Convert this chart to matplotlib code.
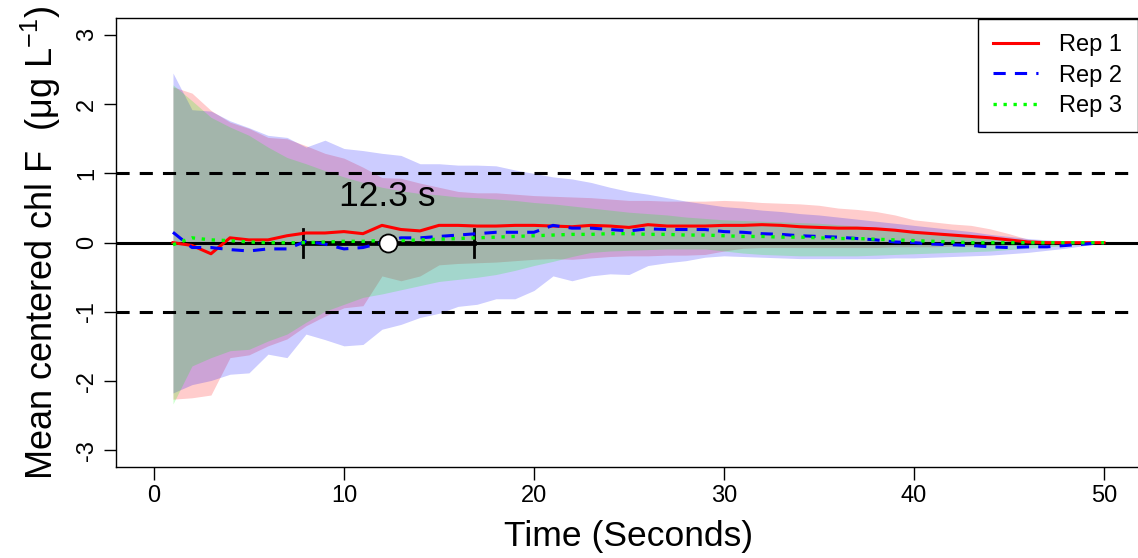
import matplotlib
matplotlib.use("Agg")
import matplotlib.pyplot as plt
import numpy as np

plt.rcParams['font.family'] = ['Liberation Sans', 'DejaVu Sans']
plt.rcParams['mathtext.default'] = 'regular'
plt.rcParams['axes.unicode_minus'] = False

# time in seconds
t = np.arange(1, 51)

# replicate means
rep1 = [0.0, -0.04, -0.16, 0.07, 0.04, 0.04, 0.10, 0.14, 0.14, 0.16,
        0.13, 0.25, 0.19, 0.17, 0.25, 0.25, 0.24, 0.24, 0.25, 0.25,
        0.24, 0.23, 0.25, 0.24, 0.22, 0.26, 0.24, 0.24, 0.24, 0.25,
        0.25, 0.26, 0.25, 0.23, 0.22, 0.21, 0.21, 0.20, 0.18, 0.15,
        0.13, 0.11, 0.09, 0.07, 0.04, 0.01, 0.0, 0.0, 0.0, 0.0]
rep2 = [0.15, -0.07, -0.07, -0.10, -0.12, -0.09, -0.09, 0.02, -0.02, -0.09,
        -0.07, 0.0, 0.07, 0.07, 0.09, 0.11, 0.13, 0.15, 0.15, 0.15,
        0.25, 0.21, 0.21, 0.19, 0.17, 0.20, 0.19, 0.19, 0.19, 0.16,
        0.15, 0.13, 0.12, 0.10, 0.09, 0.08, 0.06, 0.04, 0.01, 0.0,
        -0.02, -0.03, -0.04, -0.06, -0.07, -0.06, -0.06, -0.04, -0.02, 0.0]
rep3 = [-0.03, 0.07, 0.04, 0.03, 0.01, 0.0, 0.0, 0.0, 0.01, 0.02,
        0.02, 0.03, 0.03, 0.04, 0.05, 0.06, 0.07, 0.08, 0.09, 0.10,
        0.11, 0.12, 0.12, 0.13, 0.13, 0.12, 0.12, 0.11, 0.11, 0.10,
        0.09, 0.09, 0.08, 0.08, 0.07, 0.06, 0.06, 0.05, 0.04, 0.03,
        0.02, 0.01, 0.0, 0.0, 0.0, 0.0, 0.0, 0.0, 0.0, 0.0]

# envelopes (upper / lower) per replicate
rep1_hi = [2.25, 2.16, 1.91, 1.74, 1.65, 1.52, 1.50, 1.40, 1.29, 1.22,
           1.09, 0.94, 0.93, 0.86, 0.80, 0.74, 0.72, 0.72, 0.70, 0.68,
           0.67, 0.66, 0.65, 0.63, 0.61, 0.61, 0.60, 0.60, 0.60, 0.61,
           0.60, 0.58, 0.57, 0.56, 0.54, 0.50, 0.48, 0.45, 0.40, 0.33,
           0.30, 0.27, 0.25, 0.20, 0.13, 0.05, 0.02, 0.01, 0.0, 0.0]
rep1_lo = [-2.26, -2.24, -2.20, -1.66, -1.62, -1.49, -1.39, -1.20, -1.06, -0.94,
           -0.91, -0.48, -0.55, -0.48, -0.32, -0.30, -0.29, -0.28, -0.26, -0.24,
           -0.23, -0.24, -0.22, -0.20, -0.19, -0.19, -0.18, -0.18, -0.17, -0.12,
           -0.08, -0.07, -0.07, -0.07, -0.07, -0.07, -0.07, -0.07, -0.06, -0.06,
           -0.06, -0.05, -0.05, -0.04, -0.04, -0.03, -0.02, -0.02, -0.01, 0.0]
rep2_hi = [2.45, 1.92, 1.90, 1.76, 1.66, 1.55, 1.52, 1.38, 1.48, 1.36,
           1.33, 1.29, 1.26, 1.14, 1.14, 1.12, 1.12, 1.11, 1.05, 1.00,
           0.95, 0.92, 0.87, 0.80, 0.74, 0.70, 0.65, 0.60, 0.56, 0.52,
           0.50, 0.47, 0.45, 0.42, 0.40, 0.37, 0.34, 0.31, 0.28, 0.25,
           0.22, 0.19, 0.16, 0.12, 0.09, 0.06, 0.04, 0.03, 0.01, 0.0]
rep2_lo = [-2.17, -2.05, -1.99, -1.90, -1.88, -1.61, -1.66, -1.32, -1.40, -1.49,
           -1.47, -1.25, -1.18, -1.08, -1.02, -0.92, -0.89, -0.81, -0.81, -0.69,
           -0.48, -0.55, -0.48, -0.45, -0.46, -0.33, -0.29, -0.26, -0.21, -0.19,
           -0.20, -0.21, -0.22, -0.23, -0.23, -0.23, -0.23, -0.23, -0.22, -0.22,
           -0.21, -0.20, -0.19, -0.18, -0.16, -0.14, -0.11, -0.08, -0.04, 0.0]
rep3_hi = [2.28, 2.05, 1.81, 1.67, 1.55, 1.38, 1.23, 1.14, 1.04, 0.95,
           0.87, 0.80, 0.75, 0.71, 0.69, 0.66, 0.65, 0.63, 0.61, 0.58,
           0.56, 0.53, 0.50, 0.47, 0.44, 0.42, 0.40, 0.37, 0.35, 0.33,
           0.32, 0.31, 0.30, 0.29, 0.28, 0.26, 0.24, 0.22, 0.20, 0.17,
           0.15, 0.13, 0.10, 0.08, 0.06, 0.04, 0.03, 0.02, 0.01, 0.0]
rep3_lo = [-2.33, -1.78, -1.66, -1.56, -1.54, -1.42, -1.32, -1.15, -0.99, -0.89,
           -0.79, -0.74, -0.68, -0.62, -0.56, -0.53, -0.50, -0.46, -0.40, -0.33,
           -0.27, -0.20, -0.14, -0.12, -0.11, -0.10, -0.09, -0.09, -0.09, -0.12,
           -0.15, -0.17, -0.18, -0.19, -0.19, -0.19, -0.19, -0.18, -0.17, -0.16,
           -0.15, -0.14, -0.13, -0.12, -0.10, -0.08, -0.06, -0.04, -0.02, 0.0]

# summary point with interval
mid_t, lo_t, hi_t = 12.3, 7.85, 16.85
mid_label = "12.3 s"

fig = plt.figure(figsize=(11.38, 5.58), dpi=100)
ax = fig.add_axes([0.1019, 0.163, 0.9016, 0.8042])

ax.fill_between(t, rep1_lo, rep1_hi, color='red', alpha=0.2, lw=0)
ax.fill_between(t, rep2_lo, rep2_hi, color='blue', alpha=0.2, lw=0)
ax.fill_between(t, rep3_lo, rep3_hi, color='#00ff00', alpha=0.2, lw=0)

ax.axhline(0, color='black', lw=2.2, zorder=2)
for h in (1, -1):
    ax.axhline(h, color='black', lw=2.2, ls=(0, (4.3, 3.3)), zorder=2)

ax.plot([lo_t, hi_t], [0, 0], color='black', lw=3.4, zorder=3)
for xc in (lo_t, hi_t):
    ax.plot([xc, xc], [-0.2, 0.2], color='black', lw=2, zorder=3)

ax.plot(t, rep1, color='red', lw=2.2, label='Rep 1', zorder=4)
ax.plot(t, rep2, color='blue', lw=2.2, ls=(0, (4, 3)), label='Rep 2', zorder=4)
ax.plot(t, rep3, color='#00ff00', lw=2.4, ls=(0, (1, 2)), label='Rep 3', zorder=4)

ax.plot([mid_t], [0], 'o', ms=13, mfc='white', mec='black', mew=1.3, zorder=5)
ax.text(mid_t, 0.66, mid_label, ha='center', va='center', fontsize=25.5)

ax.set_xlim(-2, 52)
ax.set_ylim(-3.24, 3.24)
ax.set_xticks([0, 10, 20, 30, 40, 50])
ax.set_yticks([-3, -2, -1, 0, 1, 2, 3])
ax.tick_params(labelsize=17, length=9, width=1, pad=4)
for lab in ax.get_yticklabels():
    lab.set_rotation(90)
    lab.set_va('center')
for s in ax.spines.values():
    s.set_linewidth(1)

ax.set_xlabel('Time (Seconds)', fontsize=25.5, labelpad=9)
ax.set_ylabel('Mean centered chl F  (\u03bcg L$^{-1}$)', fontsize=26, labelpad=9)

leg = ax.legend(loc='upper left', bbox_to_anchor=(0.8402, 0.999), fontsize=17,
                frameon=True, fancybox=False, framealpha=1, edgecolor='black',
                handlelength=1.9, handletextpad=0.9, labelspacing=0.36,
                borderpad=0.65, borderaxespad=0)
leg.get_frame().set_linewidth(1)

plt.savefig('out.png', dpi=100)
